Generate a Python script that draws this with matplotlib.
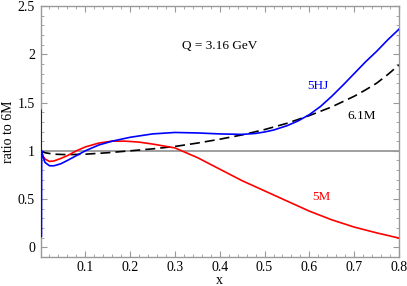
import matplotlib
matplotlib.use("Agg")
from matplotlib import pyplot as plt
from matplotlib.ticker import MultipleLocator

plt.rcParams["font.family"] = ["Liberation Serif", "DejaVu Serif"]

# 5HJ / 6M
hj_x = [0.0012, 0.0018, 0.0026, 0.005, 0.01, 0.02, 0.03, 0.045, 0.06, 0.08, 0.1, 0.13,
        0.16, 0.2, 0.25, 0.3, 0.35, 0.4, 0.45, 0.48, 0.5, 0.52, 0.55, 0.575, 0.6, 0.625,
        0.65, 0.675, 0.7, 0.725, 0.75, 0.775, 0.8]
hj_y = [1.42, 0.11, 1.0, 0.95, 0.88, 0.845, 0.845, 0.865, 0.9, 0.95, 1.0, 1.06,
        1.1, 1.14, 1.175, 1.19, 1.185, 1.175, 1.17, 1.18, 1.195, 1.215, 1.26, 1.31, 1.375, 1.46,
        1.565, 1.68, 1.8, 1.92, 2.03, 2.15, 2.26]

# 5M / 6M
m5_x = [0.0012, 0.005, 0.01, 0.02, 0.03, 0.045, 0.06, 0.08, 0.1, 0.13, 0.16, 0.19, 0.22,
        0.25, 0.3, 0.325, 0.35, 0.375, 0.4, 0.425, 0.45, 0.5, 0.55, 0.6, 0.65, 0.7, 0.75, 0.8]
m5_y = [1.0, 0.95, 0.915, 0.89, 0.895, 0.92, 0.95, 1.0, 1.04, 1.08, 1.1, 1.1, 1.09,
        1.07, 1.03, 0.98, 0.93, 0.87, 0.81, 0.75, 0.69, 0.585, 0.48, 0.375, 0.285, 0.21, 0.15, 0.096]

# 6.1M / 6M
m61_x = [0.0012, 0.01, 0.03, 0.06, 0.1, 0.15, 0.2, 0.25, 0.3, 0.35, 0.4, 0.45, 0.5,
         0.55, 0.6, 0.65, 0.7, 0.725, 0.75, 0.775, 0.8]
m61_y = [1.0, 0.98, 0.965, 0.96, 0.965, 0.98, 1.0, 1.02, 1.045, 1.08, 1.12, 1.165, 1.22,
         1.285, 1.365, 1.455, 1.565, 1.63, 1.7, 1.79, 1.89]

fig = plt.figure(figsize=(4.07, 2.86), dpi=100)
ax = fig.add_axes([40.5 / 407, 1 - 257 / 286, (399 - 40.5) / 407, (257 - 6) / 286])

ax.axhline(1.0, color="#999999", lw=1.3, zorder=1)
ax.plot(m61_x, m61_y, color="black", lw=1.2, dashes=(6, 3), zorder=2)
ax.plot(m5_x, m5_y, color="#ff0000", lw=1.2, zorder=3)
ax.plot(hj_x, hj_y, color="#0000ff", lw=1.2, zorder=4)

ax.text(0.40, 2.09, "Q = 3.16 GeV", fontsize=9.5, ha="center", va="center")
ax.text(0.62, 1.67, "5HJ", fontsize=9.5, color="#0000ff", ha="center", va="center")
ax.text(0.716, 1.357, "6.1M", fontsize=9.5, color="black", ha="center", va="center")
ax.text(0.626, 0.517, "5M", fontsize=9.5, color="#ff0000", ha="center", va="center")

ax.set_xlim(0, 0.8)
ax.set_ylim(-0.1, 2.5)
ax.xaxis.set_minor_locator(MultipleLocator(0.02))
ax.yaxis.set_minor_locator(MultipleLocator(0.1))
ax.set_xticks([0.1, 0.2, 0.3, 0.4, 0.5, 0.6, 0.7, 0.8])
ax.set_xticklabels(["0.1", "0.2", "0.3", "0.4", "0.5", "0.6", "0.7", "0.8"])
ax.set_yticks([0, 0.5, 1, 1.5, 2, 2.5])
ax.set_yticklabels(["0", "0.5", "1", "1.5", "2", "2.5"])

ax.tick_params(which="both", direction="in", top=True, right=True, color="#999999",
               labelsize=10, pad=4)
ax.tick_params(axis="x", pad=3)
ax.tick_params(which="major", length=4, width=0.8)
ax.tick_params(which="minor", length=2, width=0.6)
for s in ax.spines.values():
    s.set_color("#999999")
    s.set_linewidth(1.0)

ax.set_xlabel("x", fontsize=10)
ax.xaxis.set_label_coords(0.5, -0.068)
ax.set_ylabel("ratio to 6M", fontsize=10, labelpad=2)

fig.savefig("out.png", dpi=100)
